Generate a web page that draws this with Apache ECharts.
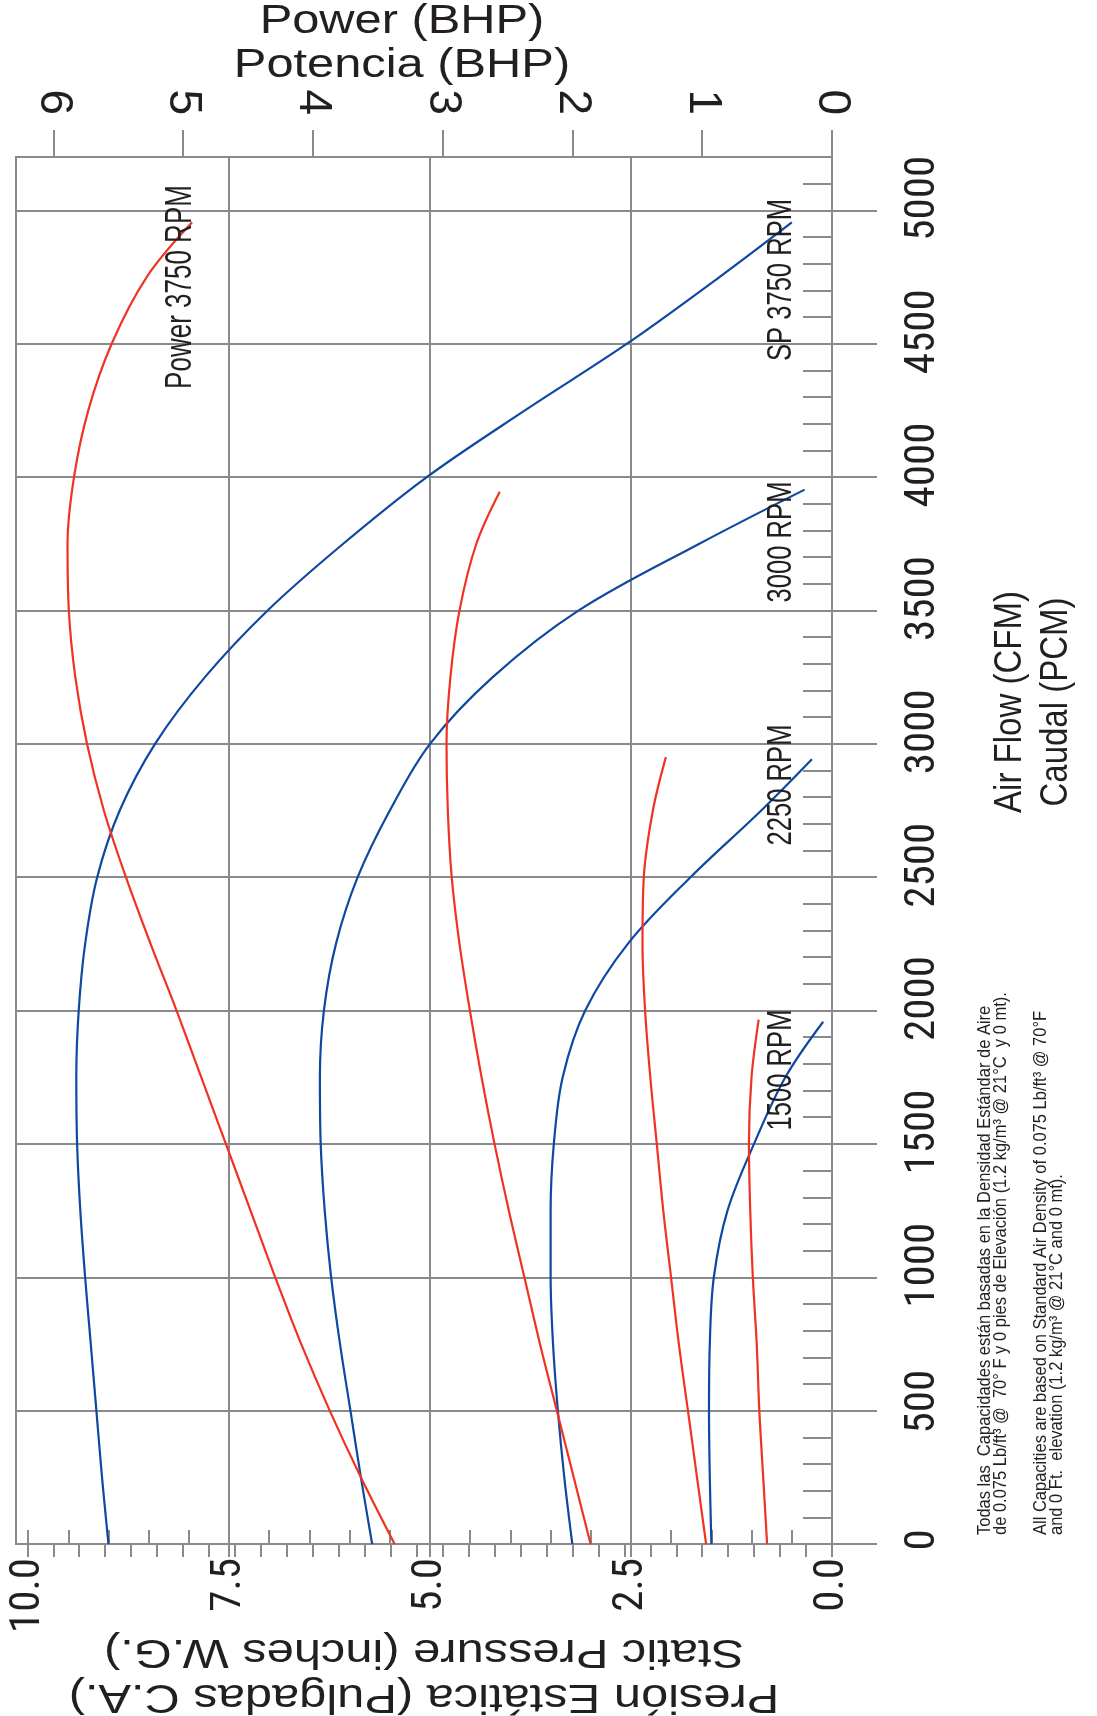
<!DOCTYPE html>
<html><head><meta charset="utf-8">
<script src="https://cdn.jsdelivr.net/npm/echarts@6/dist/echarts.min.js"></script>
<style>html,body{margin:0;padding:0;background:#fff}#c{width:1097px;height:1716px}</style>
</head><body><div id="c"></div>
<script>
// ---- axis ticks / labels ----
const pressureTicks = [0, 2.5, 5, 7.5, 10];
const powerTicks = [0, 1, 2, 3, 4, 5, 6];
const cfmTicks = [0, 500, 1000, 1500, 2000, 2500, 3000, 3500, 4000, 4500, 5000];
const PRESSURE_MAX = 10.15, POWER_MAX = 6.287, CFM_MAX = 5200;

// ---- static pressure curves (inches W.G.) vs air flow (CFM) ----
const cfmSP3750 = [0, 250, 500, 750, 1000, 1250, 1500, 1750, 2000, 2250, 2500, 2750, 3000, 3250, 3500, 3750, 4000, 4250, 4500, 4750, 4955];
const sp3750    = [9.00, 9.08, 9.15, 9.22, 9.29, 9.35, 9.39, 9.40, 9.37, 9.29, 9.14, 8.86, 8.42, 7.80, 7.02, 6.08, 5.04, 3.82, 2.55, 1.40, 0.50];
const cfmSP3000 = [0, 250, 500, 750, 1000, 1250, 1500, 1750, 2000, 2250, 2500, 2750, 3000, 3250, 3500, 3750, 3953];
const sp3000    = [5.72, 5.86, 5.99, 6.12, 6.23, 6.31, 6.36, 6.37, 6.32, 6.17, 5.90, 5.50, 5.00, 4.22, 3.15, 1.65, 0.34];
const cfmSP2250 = [0, 250, 500, 750, 1000, 1250, 1500, 1750, 2000, 2250, 2500, 2750, 2942];
const sp2250    = [3.23, 3.33, 3.41, 3.47, 3.50, 3.50, 3.46, 3.35, 3.07, 2.54, 1.76, 0.88, 0.25];
const cfmSP1500 = [0, 250, 500, 750, 1000, 1250, 1500, 1750, 1958];
const sp1500    = [1.50, 1.52, 1.53, 1.52, 1.47, 1.30, 0.97, 0.58, 0.11];

// ---- power curves (BHP) vs air flow (CFM) ----
const cfmPW3750 = [0, 250, 500, 750, 1000, 1250, 1500, 1750, 2000, 2250, 2500, 2750, 3000, 3250, 3500, 3750, 4000, 4250, 4500, 4750, 4955];
const pw3750    = [3.37, 3.63, 3.87, 4.09, 4.29, 4.48, 4.67, 4.86, 5.05, 5.25, 5.44, 5.61, 5.74, 5.83, 5.88, 5.89, 5.84, 5.73, 5.55, 5.28, 4.93];
const cfmPW3000 = [0, 250, 500, 750, 1000, 1250, 1500, 1750, 2000, 2250, 2500, 2750, 3000, 3250, 3500, 3750, 3945];
const pw3000    = [1.86, 1.99, 2.12, 2.25, 2.37, 2.49, 2.60, 2.70, 2.79, 2.87, 2.93, 2.96, 2.97, 2.94, 2.87, 2.74, 2.56];
const cfmPW2250 = [0, 250, 500, 750, 1000, 1250, 1500, 1750, 2000, 2250, 2500, 2750, 2950];
const pw2250    = [0.97, 1.04, 1.11, 1.18, 1.24, 1.30, 1.35, 1.40, 1.44, 1.46, 1.45, 1.38, 1.28];
const cfmPW1500 = [0, 250, 500, 750, 1000, 1250, 1500, 1750, 1966];
const pw1500    = [0.50, 0.53, 0.56, 0.58, 0.61, 0.63, 0.64, 0.62, 0.565];

const GRAY = '#8a8a8c', BLUE = '#0e48a0', RED = '#f03223', INK = '#231f20';
const REG = "'Liberation Sans',Arial,Helvetica,sans-serif";

// condensed face for the axis numbers (falls back to Liberation Sans)
const mctx = document.createElement('canvas').getContext('2d');
function measure(font, text) { mctx.font = font; return mctx.measureText(text).width; }
function installed(fam) {
  const t = 'mmmwwwlli 0123456789 ABC';
  return ['monospace', 'serif'].every(g => measure(`40px '${fam}', ${g}`, t) !== measure(`40px ${g}`, t));
}
const NUMFAM = installed('Roboto Condensed') ? 'Roboto Condensed' : 'Liberation Sans';
const NUMFONT = `'${NUMFAM}',${REG}`;
const cfmSize = Math.min(46, 85 / (measure(`100px ${NUMFONT}`, '5000') / 100));
const pressSize = Math.min(52, 75 / (measure(`100px ${NUMFONT}`, '10.0') / 100));

function steps(a, b, s) { const r = []; for (let i = 0; a + i * s <= b + 1e-9; i++) r.push(+(a + i * s).toFixed(3)); return r; }
const pressureMinor = steps(0, 10, 0.5);
const powerMinor = steps(0, 6.2, 0.2);
const cfmMinor = steps(0, 5100, 100);

function pairs(xs, ys) { return ys.map((q, i) => [xs[i], q]); }
function line(name, xIdx, cfm, vals, color) {
  return { name, type: 'line', xAxisIndex: xIdx, yAxisIndex: 0, data: pairs(vals, cfm),
    showSymbol: false, symbol: 'none', smooth: 0.35, silent: true, z: 5,
    lineStyle: { color, width: 2.2 } };
}
const tickStyle = { color: GRAY, width: 2 };
const hidden = { axisLine: { show: false }, axisLabel: { show: false }, splitLine: { show: false } };

function vtext(text, x, y, size, sy, align) {
  return { type: 'text', x, y, rotation: Math.PI / 2, scaleY: sy, z: 10,
    style: { text, fill: INK, fontSize: size, fontFamily: REG, align: align || 'center', verticalAlign: 'middle',
      textAlign: align || 'center', textVerticalAlign: 'middle' } };
}
function htext(text, x, y, size, sx, rot) {
  return { type: 'text', x, y, rotation: rot || 0, scaleX: sx, z: 10,
    style: { text, fill: INK, fontSize: size, fontFamily: REG, align: 'center', verticalAlign: 'middle',
      textAlign: 'center', textVerticalAlign: 'middle' } };
}

const chart = echarts.init(document.getElementById('c'), null, { renderer: 'canvas' });
chart.setOption({
  animation: false,
  backgroundColor: '#fff',
  grid: { left: 16, right: 265, top: 157, bottom: 172, show: true, borderColor: GRAY, borderWidth: 2, containLabel: false },
  xAxis: [
    { type: 'value', position: 'bottom', inverse: true, min: 0, max: PRESSURE_MAX, interval: 2.5,
      axisLine: { show: true, onZero: false, lineStyle: tickStyle },
      axisTick: { show: true, inside: false, length: 13, customValues: pressureTicks, lineStyle: tickStyle },
      axisLabel: { show: true, customValues: pressureTicks, formatter: v => Number(v).toFixed(1), rotate: 90, margin: 14,
        fontSize: pressSize, fontFamily: NUMFONT, fontWeight: 'normal', color: INK },
      splitLine: { show: true, lineStyle: { color: [GRAY, GRAY, GRAY, GRAY, 'rgba(0,0,0,0)', GRAY], width: 2 } } },
    Object.assign({ type: 'value', position: 'bottom', inverse: true, min: 0, max: PRESSURE_MAX, interval: 0.5,
      axisTick: { show: true, inside: true, length: 14, customValues: pressureMinor, lineStyle: tickStyle } }, hidden),
    { type: 'value', position: 'top', inverse: true, min: 0, max: POWER_MAX, interval: 1,
      axisLine: { show: true, onZero: false, lineStyle: tickStyle },
      axisTick: { show: true, inside: false, length: 27, customValues: powerTicks, lineStyle: tickStyle },
      axisLabel: { show: true, customValues: powerTicks, formatter: v => String(Math.round(v)), rotate: 90, margin: 42,
        fontSize: 46, fontFamily: REG, color: INK },
      splitLine: { show: false } },
    Object.assign({ type: 'value', position: 'top', inverse: true, min: 0, max: POWER_MAX, interval: 0.2,
      axisTick: { show: true, inside: true, length: 13, customValues: powerMinor, lineStyle: tickStyle } }, hidden)
  ],
  yAxis: [
    { type: 'value', position: 'right', min: 0, max: CFM_MAX, interval: 500,
      axisLine: { show: true, onZero: false, lineStyle: tickStyle },
      axisTick: { show: true, inside: false, length: 45, customValues: cfmTicks, lineStyle: tickStyle },
      axisLabel: { show: true, customValues: cfmTicks, rotate: 90, margin: 70, color: INK,
        formatter: v => { const s = String(v); return '{p' + s.length + '|' + s + '}'; },
        rich: {
          p1: { fontSize: cfmSize, fontFamily: NUMFONT, fontWeight: 'normal', color: INK, padding: [0, 0, 0, 8] },
          p3: { fontSize: cfmSize, fontFamily: NUMFONT, fontWeight: 'normal', color: INK, padding: [0, 0, 0, 18] },
          p4: { fontSize: cfmSize, fontFamily: NUMFONT, fontWeight: 'normal', color: INK, padding: [0, 0, 0, 24] }
        } },
      splitLine: { show: true, lineStyle: { color: GRAY, width: 2 } } },
    Object.assign({ type: 'value', position: 'right', min: 0, max: CFM_MAX, interval: 100,
      axisTick: { show: true, inside: true, length: 29, customValues: cfmMinor, lineStyle: tickStyle } }, hidden)
  ],
  series: [
    line('SP 3750 RPM', 0, cfmSP3750, sp3750, BLUE),
    line('SP 3000 RPM', 0, cfmSP3000, sp3000, BLUE),
    line('SP 2250 RPM', 0, cfmSP2250, sp2250, BLUE),
    line('SP 1500 RPM', 0, cfmSP1500, sp1500, BLUE),
    line('Power 3750 RPM', 2, cfmPW3750, pw3750, RED),
    line('Power 3000 RPM', 2, cfmPW3000, pw3000, RED),
    line('Power 2250 RPM', 2, cfmPW2250, pw2250, RED),
    line('Power 1500 RPM', 2, cfmPW1500, pw1500, RED)
  ],
  graphic: [
    htext('Power (BHP)', 402, 22, 40, 1.22),
    htext('Potencia (BHP)', 402, 66, 40, 1.22),
    htext('Static Pressure (inches W.G.)', 424, 1651, 40, 1.22, Math.PI),
    htext('Presión Estática (Pulgadas C.A.)', 424, 1696, 40, 1.22, Math.PI),
    vtext('Air Flow (CFM)', 1010, 702, 33, 1.2),
    vtext('Caudal (PCM)', 1056, 702, 33, 1.2),
    vtext('Power 3750 RPM', 181, 287, 26, 1.45),
    vtext('SP 3750 RPM', 781, 280, 25.6, 1.4),
    vtext('3000 RPM', 781, 542, 25.6, 1.4),
    vtext('2250 RPM', 781, 785, 25.6, 1.4),
    vtext('1500 RPM', 781, 1070, 25.6, 1.4),
    vtext('Todas las  Capacidades están basadas en la Densidad Estándar de Aire', 985, 1535, 16.5, 1.15, 'left'),
    vtext('de 0.075 Lb/ft³ @  70° F y 0 pies de Elevación (1.2 kg/m³ @ 21°C  y 0 mt).', 1001, 1535, 16.5, 1.15, 'left'),
    vtext('All Capacities are based on Standard Air Density of 0.075 Lb/ft³ @ 70°F', 1041, 1535, 16.5, 1.15, 'left'),
    vtext('and 0 Ft.  elevation (1.2 kg/m³ @ 21°C and 0 mt).', 1057, 1535, 16.5, 1.15, 'left')
  ]
});
</script></body></html>
